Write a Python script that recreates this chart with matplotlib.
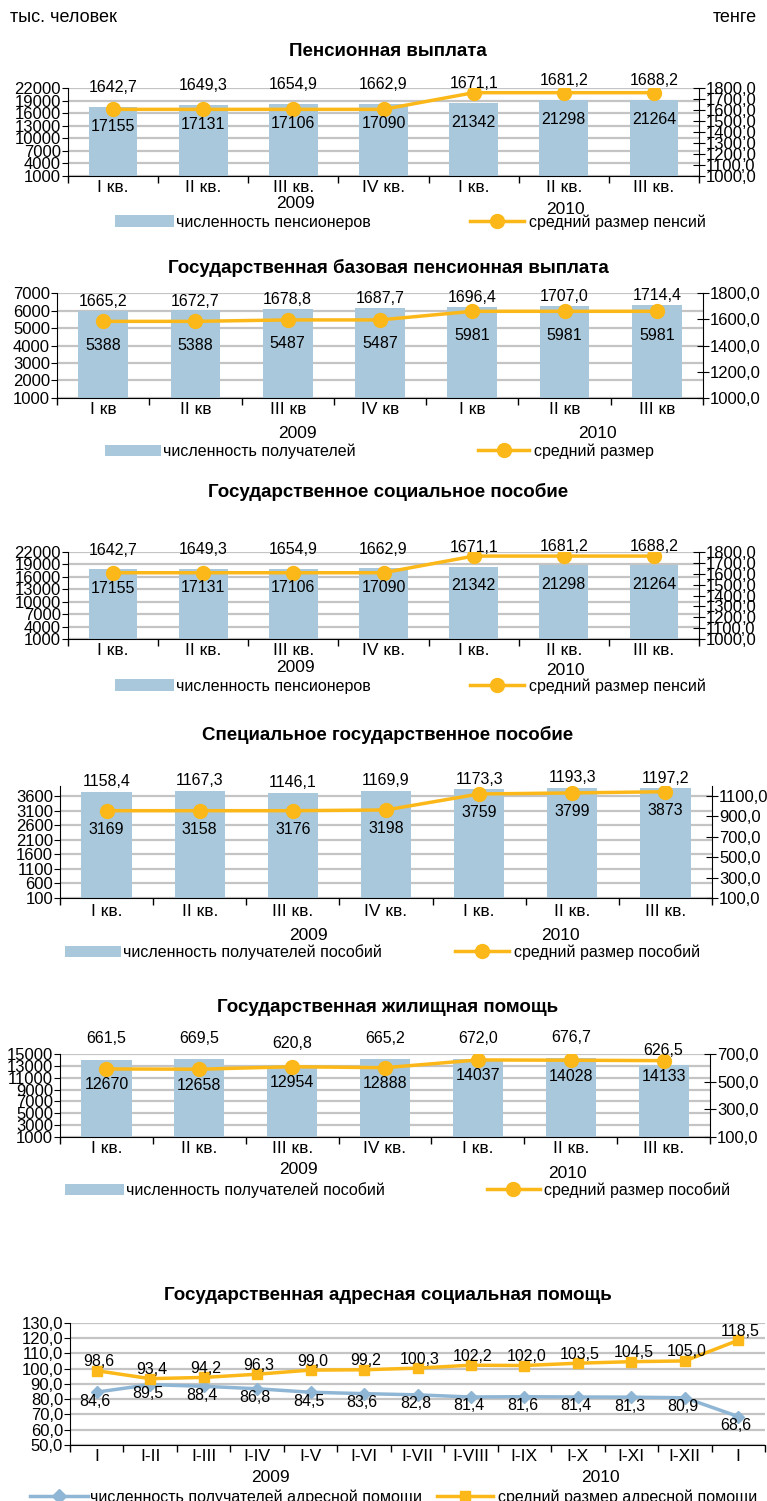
import matplotlib
matplotlib.use("Agg")
import matplotlib.pyplot as plt
from matplotlib.lines import Line2D
from matplotlib.patches import Patch
from matplotlib.ticker import FuncFormatter

plt.rcParams["font.family"] = ["Liberation Sans", "DejaVu Sans"]

W, H = 767, 1501
BAR_C = "#A9C8DC"
LINE_C = "#FBB818"
BLUE_C = "#8FB6D4"
GRID_C = "#C4C4C4"

FS_TICK = 12
FS_XLAB = 12.5
FS_DATA = 11.5
FS_LEG = 11.5
FS_YEAR = 12.5
FS_TITLE = 13.5

quarters_dot = ["I кв.", "II кв.", "III кв.", "IV кв.", "I кв.", "II кв.", "III кв."]
quarters = ["I кв", "II кв", "III кв", "IV кв", "I кв", "II кв", "III кв"]
months = ["I", "I-II", "I-III", "I-IV", "I-V", "I-VI", "I-VII", "I-VIII",
          "I-IX", "I-X", "I-XI", "I-XII", "I"]

# Пенсионная выплата (bar heights / line)
pens_bars = [17600, 17950, 18200, 18300, 18550, 19100, 19100]
pens_line = [1608, 1608, 1608, 1608, 1760, 1760, 1760]
pens_top = ["1642,7", "1649,3", "1654,9", "1662,9", "1671,1", "1681,2", "1688,2"]
pens_in = ["17155", "17131", "17106", "17090", "21342", "21298", "21264"]

# Государственная базовая пенсионная выплата
base_bars = [6000, 6040, 6120, 6160, 6230, 6290, 6350]
base_line = [1585, 1585, 1596, 1596, 1662, 1662, 1662]
base_top = ["1665,2", "1672,7", "1678,8", "1687,7", "1696,4", "1707,0", "1714,4"]
base_in = ["5388", "5388", "5487", "5487", "5981", "5981", "5981"]

# Государственное социальное пособие
soc_bars = [17770, 17930, 17930, 18090, 18410, 18730, 18730]
soc_line = [1608, 1608, 1608, 1608, 1760, 1760, 1760]
soc_top = ["1642,7", "1649,3", "1654,9", "1662,9", "1671,1", "1681,2", "1688,2"]
soc_in = ["17155", "17131", "17106", "17090", "21342", "21298", "21264"]

# Специальное государственное пособие
spec_bars = [3750, 3780, 3710, 3780, 3830, 3875, 3870]
spec_line = [956, 956, 956, 963, 1120, 1130, 1142]
spec_top = ["1158,4", "1167,3", "1146,1", "1169,9", "1173,3", "1193,3", "1197,2"]
spec_in = ["3169", "3158", "3176", "3198", "3759", "3799", "3873"]

# Государственная жилищная помощь
house_bars = [14000, 14150, 13150, 14150, 14150, 14320, 13150]
house_line = [592, 590, 608, 601, 657, 655, 652]
house_top = ["661,5", "669,5", "620,8", "665,2", "672,0", "676,7", "626,5"]
house_in = ["12670", "12658", "12954", "12888", "14037", "14028", "14133"]

# Государственная адресная социальная помощь
addr_count = [84.6, 89.5, 88.4, 86.8, 84.5, 83.6, 82.8, 81.4, 81.6, 81.4, 81.3, 80.9, 68.6]
addr_size = [98.6, 93.4, 94.2, 96.3, 99.0, 99.2, 100.3, 102.2, 102.0, 103.5, 104.5, 105.0, 118.5]

fig = plt.figure(figsize=(W / 100, H / 100), dpi=100)


def px_axes(left, top, right, bottom):
    return fig.add_axes([left / W, 1 - bottom / H, (right - left) / W, (bottom - top) / H])


def ftext(x, y, s, **kw):
    fig.text(x / W, 1 - y / H, s, **kw)


def comma1(v, pos):
    return f"{v:.1f}".replace(".", ",")


def setup_x(ax, cats, pad):
    n = len(cats)
    ax.set_xlim(-0.5, n - 0.5)
    ax.set_xticks(range(n))
    ax.set_xticklabels(cats, fontsize=FS_XLAB)
    ax.set_xticks([i - 0.5 for i in range(n + 1)], minor=True)
    ax.tick_params(axis="x", which="major", length=0, pad=pad)
    ax.tick_params(axis="x", which="minor", length=5, direction="out", width=1)


def legend_items(y, bar_x, bar_lbl, line_x, line_lbl, bar_len, line_len, marker="o", c1=BAR_C):
    if marker == "o":
        h1 = Patch(facecolor=c1, edgecolor="none")
    else:
        h1 = Line2D([], [], color=c1, lw=2.5, marker=marker, ms=7)
    fig.legend([h1], [bar_lbl], loc="center left", bbox_to_anchor=(bar_x / W, 1 - y / H),
               frameon=False, borderpad=0, borderaxespad=0, handlelength=bar_len,
               handletextpad=0.15, fontsize=FS_LEG)
    mk = "o" if marker == "o" else "s"
    h2 = Line2D([], [], color=LINE_C, lw=2.5, marker=mk, ms=10 if mk == "o" else 7)
    fig.legend([h2], [line_lbl], loc="center left", bbox_to_anchor=(line_x / W, 1 - y / H),
               frameon=False, borderpad=0, borderaxespad=0, handlelength=line_len,
               handletextpad=0.3, fontsize=FS_LEG)


def bar_panel(box, cats, bars, line, top_lbls, in_lbls, ylim, yticks, ylim2, yticks2,
              top_off, in_off, in_ref, xpad=3):
    ax = px_axes(*box)
    ax.bar(range(len(bars)), bars, width=0.54, color=BAR_C, zorder=2)
    ax.set_ylim(*ylim)
    ax.set_yticks(yticks)
    ax.tick_params(axis="y", labelsize=FS_TICK, length=4, pad=1)
    ax.yaxis.grid(True, color=GRID_C, lw=1.6)
    ax.set_axisbelow(True)
    setup_x(ax, cats, xpad)
    for s in ["top", "right"]:
        ax.spines[s].set_visible(False)
    ax2 = ax.twinx()
    ax2.plot(range(len(line)), line, color=LINE_C, lw=2.5, marker="o", ms=10, zorder=3)
    ax2.set_ylim(*ylim2)
    ax2.set_yticks(yticks2)
    ax2.yaxis.set_major_formatter(FuncFormatter(comma1))
    ax2.tick_params(axis="y", labelsize=FS_TICK, length=8, direction="inout", pad=1)
    for s in ["top", "left", "bottom"]:
        ax2.spines[s].set_visible(False)
    for i, (b, l, t, s) in enumerate(zip(bars, line, top_lbls, in_lbls)):
        ax2.annotate(t, (i, b), xycoords=ax.transData, xytext=(0, top_off[i]),
                     textcoords="offset pixels", ha="center", va="center", fontsize=FS_DATA)
        if in_ref == "bar":
            ax2.annotate(s, (i, b), xycoords=ax.transData, xytext=(0, -in_off),
                         textcoords="offset pixels", ha="center", va="center", fontsize=FS_DATA)
        else:
            ax2.annotate(s, (i, l), xycoords=ax2.transData, xytext=(0, -in_off),
                         textcoords="offset pixels", ha="center", va="center", fontsize=FS_DATA)
    return ax, ax2


TITLE_KW = dict(ha="center", va="center", fontsize=FS_TITLE, fontweight="bold")
YEAR_KW = dict(ha="center", va="center", fontsize=FS_YEAR)

ftext(10, 18, "тыс. человек", ha="left", va="center", fontsize=13)
ftext(757, 18, "тенге", ha="right", va="center", fontsize=13)

# panel 1
ftext(388, 52, "Пенсионная выплата", **TITLE_KW)
bar_panel((68, 88.3, 699, 176), quarters_dot, pens_bars, pens_line, pens_top, pens_in,
          (1000, 22000), [1000, 4000, 7000, 10000, 13000, 16000, 19000, 22000],
          (1000, 1800), [1000, 1100, 1200, 1300, 1400, 1500, 1600, 1700, 1800],
          [19.5] * 7, 19.5, "bar")
ftext(295, 204, "2009", **YEAR_KW)
ftext(565, 210, "2010", **YEAR_KW)
legend_items(222, 115, "численность пенсионеров", 470, "средний размер пенсий", 3.7, 3.4)

# panel 2
ftext(388, 268, "Государственная базовая пенсионная выплата", **TITLE_KW)
bar_panel((57, 293.3, 703, 397.7), quarters, base_bars, base_line, base_top, base_in,
          (1000, 7000), [1000, 2000, 3000, 4000, 5000, 6000, 7000],
          (1000, 1800), [1000, 1200, 1400, 1600, 1800],
          [9] * 7, 24, "line")
ftext(297, 433, "2009", **YEAR_KW)
ftext(597, 433, "2010", **YEAR_KW)
legend_items(451, 105, "численность получателей", 478, "средний размер", 3.5, 3.2)

# panel 3
ftext(388, 492, "Государственное социальное пособие", **TITLE_KW)
bar_panel((68, 551.7, 699, 639.3), quarters_dot, soc_bars, soc_line, soc_top, soc_in,
          (1000, 22000), [1000, 4000, 7000, 10000, 13000, 16000, 19000, 22000],
          (1000, 1800), [1000, 1100, 1200, 1300, 1400, 1500, 1600, 1700, 1800],
          [19] * 7, 19, "bar")
ftext(295, 667, "2009", **YEAR_KW)
ftext(565, 671, "2010", **YEAR_KW)
legend_items(686, 115, "численность пенсионеров", 470, "средний размер пенсий", 3.7, 3.4)

# panel 4
ftext(388, 735, "Специальное государственное пособие", **TITLE_KW)
bar_panel((60, 785.8, 712, 898), quarters_dot, spec_bars, spec_line, spec_top, spec_in,
          (100, 3950), [100, 600, 1100, 1600, 2100, 2600, 3100, 3600],
          (100, 1200), [100, 300, 500, 700, 900, 1100],
          [10] * 7, 19, "line", xpad=4)
ftext(308, 935, "2009", **YEAR_KW)
ftext(560, 935, "2010", **YEAR_KW)
legend_items(952, 65, "численность получателей пособий", 455, "средний размер пособий", 3.5, 3.4)

# panel 5
ftext(388, 1007, "Государственная жилищная помощь", **TITLE_KW)
bar_panel((60, 1054, 710, 1137), quarters_dot, house_bars, house_line, house_top, house_in,
          (1000, 15000), [1000, 3000, 5000, 7000, 9000, 11000, 13000, 15000],
          (100, 700), [100, 300, 500, 700],
          [21, 21, 21, 21, 21, 21, 14], 16, "line")
ftext(298, 1169, "2009", **YEAR_KW)
ftext(567, 1173, "2010", **YEAR_KW)
legend_items(1190, 65, "численность получателей пособий", 487, "средний размер пособий", 3.7, 3.3)

# panel 6
ftext(388, 1296, "Государственная адресная социальная помощь", **TITLE_KW)
ax6 = px_axes(70, 1322.7, 765, 1445)
x6 = range(len(months))
ax6.plot(x6, addr_count, color=BLUE_C, lw=2.5, marker="D", ms=6, zorder=3)
ax6.plot(x6, addr_size, color=LINE_C, lw=2.5, marker="s", ms=7, zorder=3)
ax6.set_ylim(50, 130)
ax6.set_yticks([50, 60, 70, 80, 90, 100, 110, 120, 130])
ax6.yaxis.set_major_formatter(FuncFormatter(comma1))
ax6.tick_params(axis="y", labelsize=FS_TICK, length=4, pad=1)
ax6.yaxis.grid(True, color=GRID_C, lw=1.6)
ax6.set_axisbelow(True)
setup_x(ax6, months, 3)
for s in ["top", "right"]:
    ax6.spines[s].set_visible(False)
for i, (c, s) in enumerate(zip(addr_count, addr_size)):
    ax6.annotate(comma1(s, None), (i, s), xytext=(2, 9), textcoords="offset pixels",
                 ha="center", va="center", fontsize=FS_DATA, zorder=4)
    ax6.annotate(comma1(c, None), (i, c), xytext=(-2, -9), textcoords="offset pixels",
                 ha="center", va="center", fontsize=FS_DATA, zorder=4)
ftext(270, 1477, "2009", **YEAR_KW)
ftext(600, 1478, "2010", **YEAR_KW)
legend_items(1497, 30, "численность получателей адресной помощи", 437,
             "средний размер адресной помощи", 3.6, 3.5, marker="D", c1=BLUE_C)

fig.savefig("out.png", dpi=100)
